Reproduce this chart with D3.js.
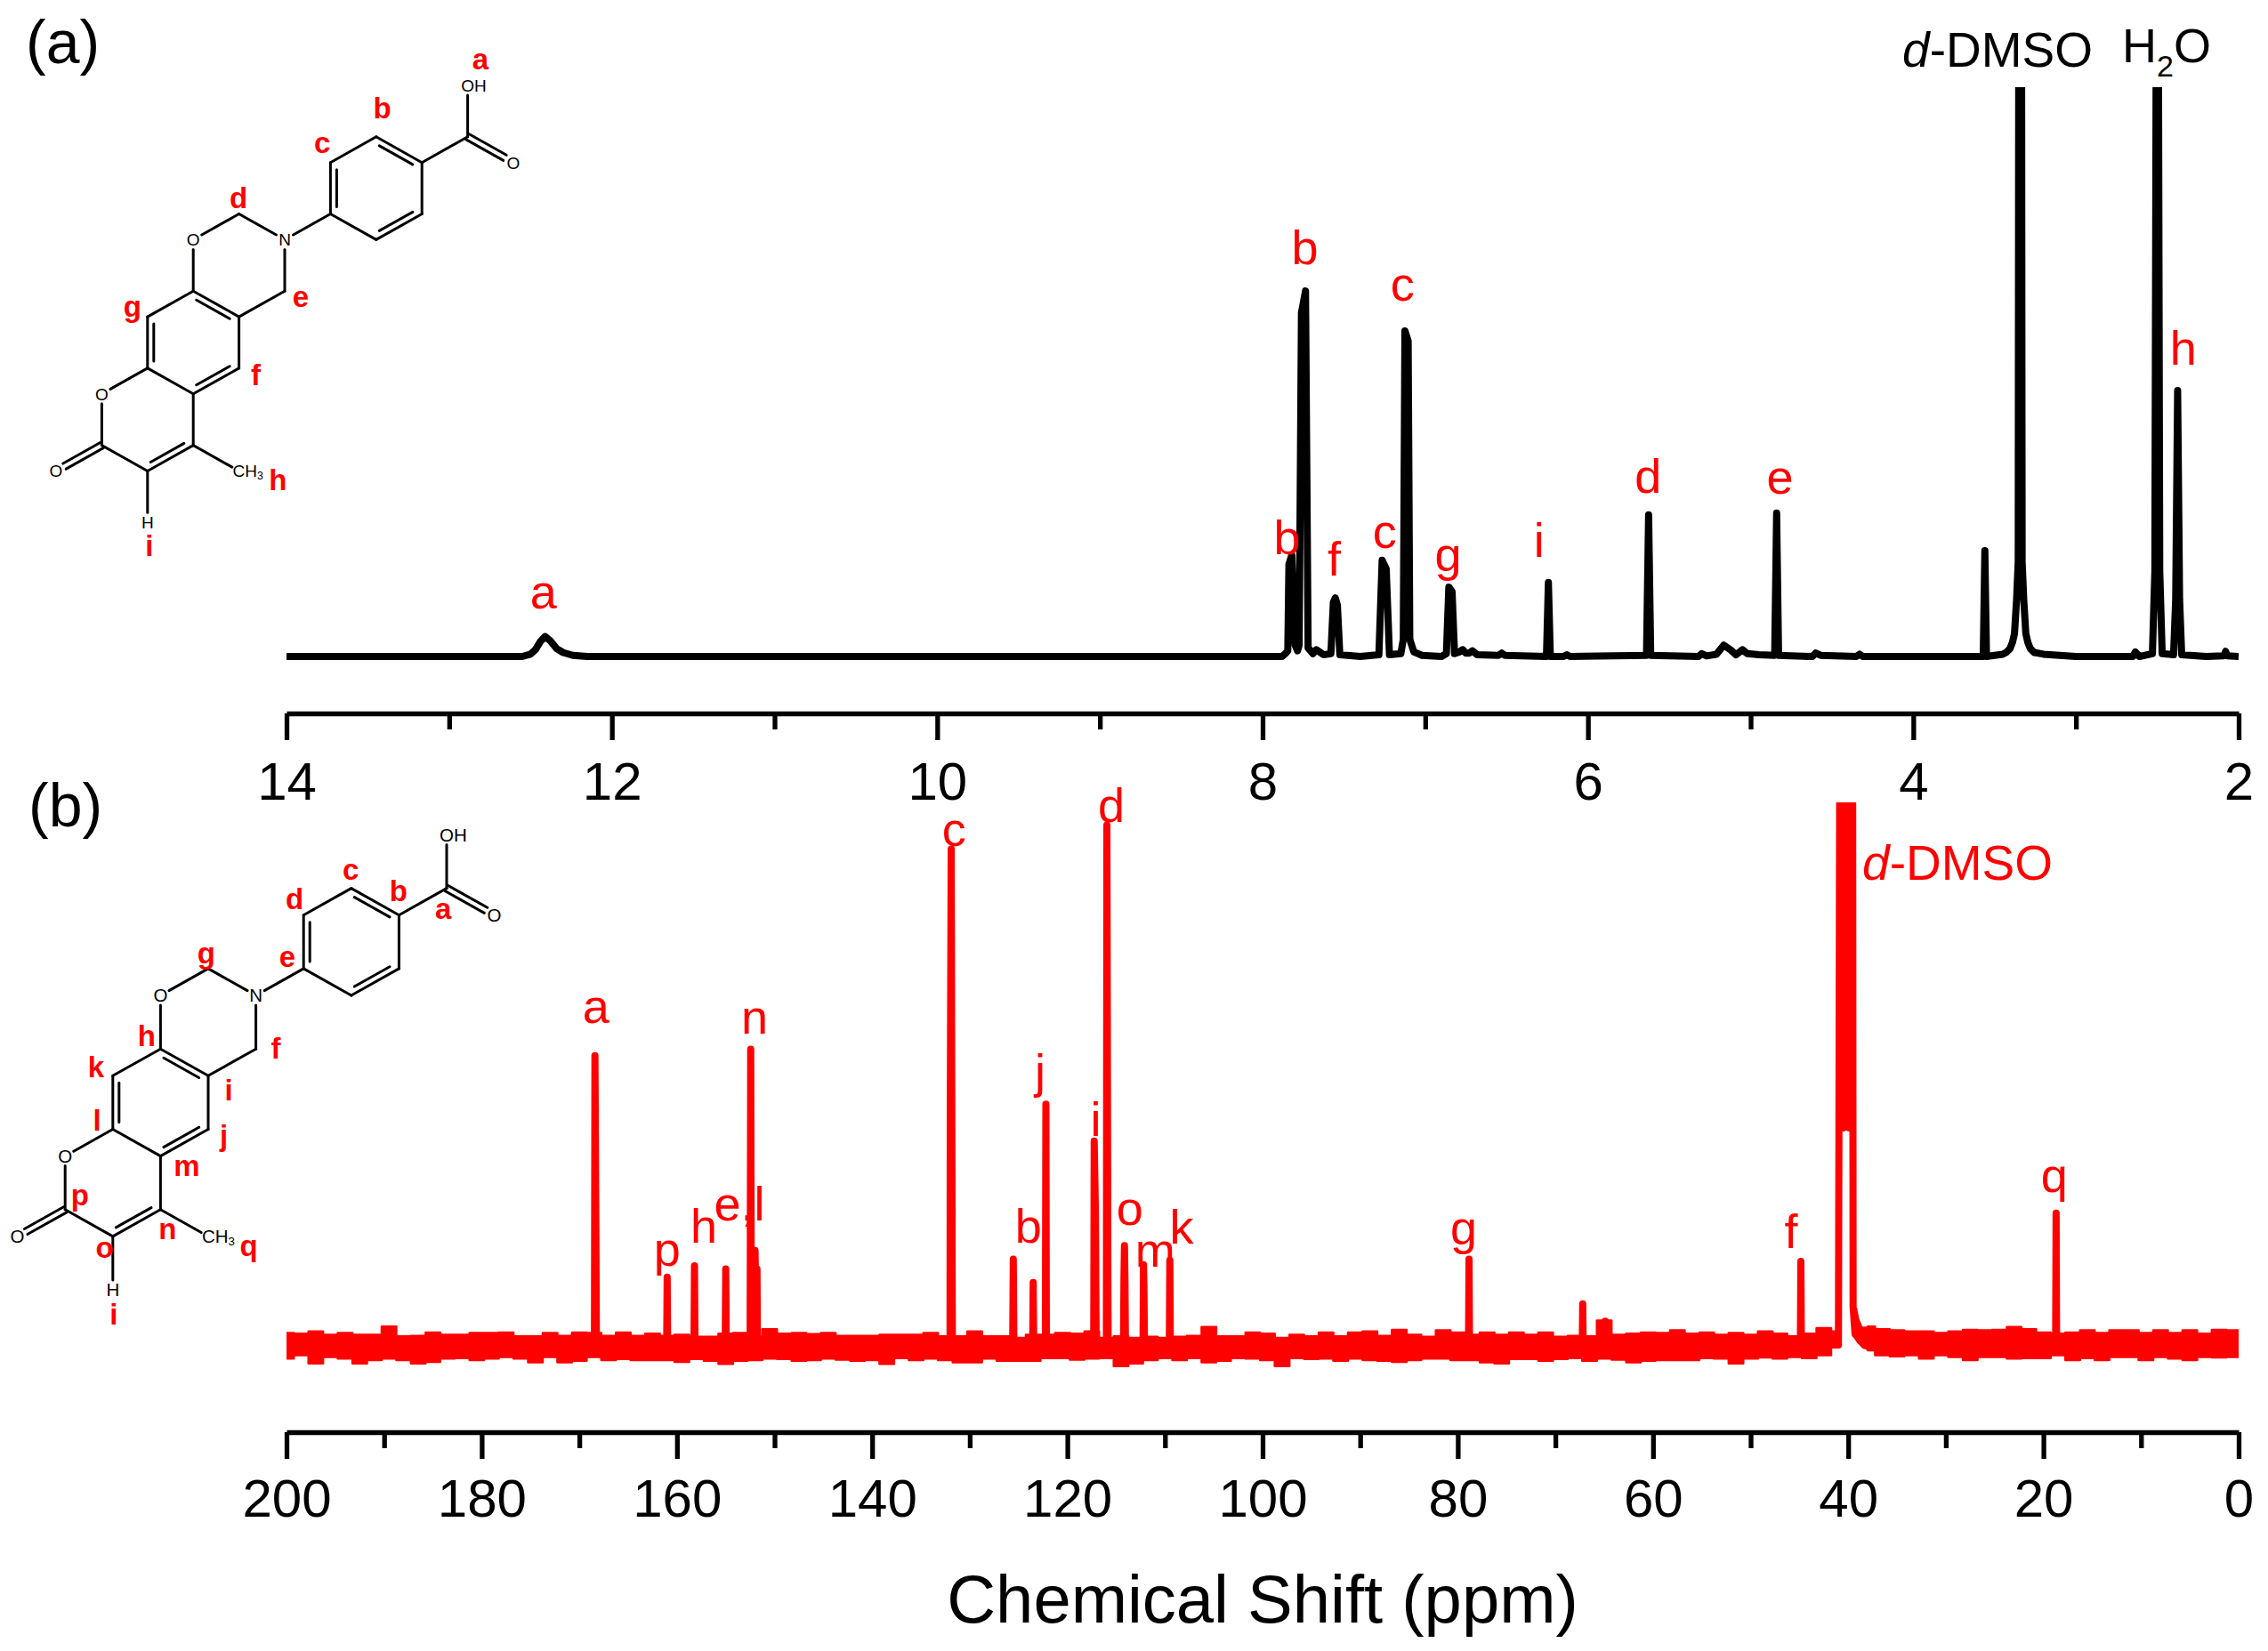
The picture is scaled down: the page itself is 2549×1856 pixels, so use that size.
<!DOCTYPE html>
<html>
<head>
<meta charset="utf-8">
<title>NMR spectra</title>
<script src="https://cdn.jsdelivr.net/npm/d3@7"></script>
<style>
  body { margin: 0; background: #fff; }
  text { font-family: "Liberation Sans", Arial, sans-serif; }
</style>
</head>
<body>
<svg id="chart" width="2549" height="1856"></svg>
<script>
// (a) 1H spectrum, intensity is % of the visible height
var protonShift = [14,12.55,12.5,12.47,12.44,12.41,12.38,12.34,12.3,12.24,12.15,7.88,7.86,7.845,7.838,7.82,7.8,7.785,7.775,7.761,7.736,7.72,7.69,7.67,7.65,7.625,7.58,7.565,7.553,7.54,7.525,7.4,7.285,7.265,7.24,7.22,7.15,7.135,7.125,7.105,7.095,7.07,7.02,6.9,6.87,6.855,6.835,6.82,6.79,6.77,6.75,6.73,6.71,6.68,6.55,6.53,6.51,6.255,6.243,6.231,6.15,6.13,6.11,5.64,5.627,5.614,5.32,5.3,5.27,5.21,5.165,5.12,5.09,5.05,5.02,4.95,4.852,4.84,4.828,4.62,4.6,4.57,4.35,4.33,4.31,3.57,3.56,3.55,3.5,3.45,3.43,3.405,3.39,3.378,3.365,3.355,3.351,3.335,3.331,3.321,3.308,3.296,3.281,3.256,3.2,3.1,3,2.65,2.635,2.61,2.53,2.515,2.505,2.495,2.485,2.47,2.4,2.387,2.375,2.363,2.35,2.2,2.09,2.08,2.07,2];
var protonIntensity = [0,0,0.4,1.2,2.6,3.5,2.8,1.4,0.7,0.2,0,0,0.5,1,16.2,17.8,2,1,2,60.4,64.2,1.5,0.5,1.2,0.8,0.3,0.5,9.5,10.3,9,0.3,0,0.3,16.9,15.4,0.3,0.5,3,57.2,55.4,3,0.8,0.2,0,0.5,12.2,11.4,0.5,0.8,1.2,0.6,0.6,1,0.3,0.2,0.6,0.2,0,13,0,0,0.3,0,0.2,24.9,0.2,0,0.5,0.1,0.4,2,1.1,0.3,1.2,0.5,0.3,0.2,25.2,0.2,0,0.6,0.2,0,0.4,0,0,18.6,0,0.2,0.4,0.7,1.4,2.5,4,10,16.7,130,130,16.7,10,4,2.5,1.4,0.7,0.4,0.2,0,0,0.8,0,0.5,15,130,130,15,0.5,0.3,10,46.7,10,0.3,0,0.1,0.9,0.1,0];

// (b) 13C spectrum, peaks only
var carbonShift = [200,168.45,168.4,168.3,168.25,161.05,161,160.95,158.25,158.2,158.15,155.05,155,154.95,152.5,152.44,152.38,152.05,152,151.9,151.8,151.75,132.02,132,131.9,131.8,131.78,125.6,125.54,125.48,123.55,123.5,123.45,122.25,122.2,122.15,117.3,117.25,117.12,117.05,116,115.95,115.85,115.82,114.25,114.2,114.15,114.1,114.05,112.25,112.2,112.15,112.1,109.55,109.5,109.45,78.9,78.85,78.8,67.25,67.2,67.15,65.05,64.9,64.75,44.9,44.85,44.8,41,40.84,40.5,40.2,39.9,39.56,39.5,39.3,38.55,38,18.75,18.7,18.65,0];
var carbonIntensity = [0,0,53.3,20,0,0,12.5,0,0,14.6,0,0,14,0,0,54.5,0,0,17.4,8,14,0,0,39.7,91.4,12.3,0,0,15.8,0,0,11.5,0,0,44.4,0,0,37.6,23.8,0,0,95.8,11.8,0,0,12.3,18.3,12.3,0,0,14.8,10,0,0,15.6,0,0,15.8,0,0,7.6,0,0,4.4,0,0,15.4,0,0,130,40,130,40,130,7,2,0.5,0,0,24.3,0,0];

// noise band of the 13C baseline, one sample every 1.5 ppm from 200 down, last one at 0
var noiseUpper = [2.2,2.1,2.5,1.9,2.2,1.9,1.9,3.4,1.6,1.7,2.3,1.9,1.9,2.2,2.2,2.3,1.6,1.6,2.2,1.7,2.3,2.2,1.7,2.3,1.7,2.1,1.7,1.9,1.5,1.5,2.1,2.2,1.5,2.9,
  2.1,2.2,2.0,2.2,1.7,1.7,1.7,1.9,1.9,1.9,2.2,1.6,1.6,2.5,1.6,1.6,1.3,1.9,1.9,2.2,2.1,2.5,1.3,1.6,1.3,1.5,1.3,1.5,1.7,3.3,1.6,1.6,2.3,
  2.1,1.3,1.9,1.6,2.3,1.6,2.3,2.5,1.7,2.8,1.9,1.5,2.7,2.3,1.9,2.3,1.9,2.3,1.9,2.3,1.5,1.7,1.6,4.5,1.9,2.1,2.3,2.2,2.7,2.1,2.3,1.9,2.2,1.9,
  2.5,2.1,1.6,2.1,3.1,2.5,null,3.4,2.9,2.7,2.5,2.5,2.2,2.5,2.8,2.7,2.8,3.3,2.9,2.3,2.1,2.3,2.7,2.2,2.7,2.7,2.2,2.7,2.2,2.7,2.1,2.8,2.7,2.7];
var noiseLower = [-2.5,-1.9,-3.4,-2.2,-2.5,-3.4,-2.8,-2.5,-2.8,-3.4,-3.1,-2.5,-2.4,-2.8,-2.5,-2.2,-2.5,-3.2,-2.2,-3.2,-2.9,-2.2,-2.8,-2.6,-2.8,-2.8,-2.8,-3.1,-2.6,-2.9,-3.5,-2.9,-2.8,-2.5,
  -2.6,-2.9,-2.8,-2.5,-2.7,-2.9,-2.8,-3.5,-2.4,-2.8,-2.5,-2.8,-3.2,-3.2,-2.5,-2.9,-2.9,-2.9,-2.4,-2.4,-2.7,-2.5,-2.4,-3.9,-3.4,-2.8,-2.4,-2.8,-2.4,-3.2,-2.9,-2.4,-2.5,
  -2.8,-3.9,-2.4,-2.6,-2.5,-2.9,-2.5,-2.8,-2.9,-3.1,-2.8,-2.5,-2.5,-2.8,-2.8,-3.2,-3.4,-2.6,-2.6,-2.9,-2.6,-2.4,-2.9,-2.5,-2.7,-3.2,-2.9,-2.8,-2.8,-2.8,-2.4,-2.5,-3.4,-2.5,
  -2.3,-2.5,-2.2,-2.4,-1.9,-0.4,null,-1.0,-1.9,-2.1,-1.9,-2.5,-1.9,-2.2,-2.8,-2.2,-2.2,-2.5,-2.4,-2.4,-1.9,-2.8,-2.4,-2.8,-2.2,-2.2,-2.8,-2.2,-2.5,-2.8,-2.2,-2.3,-2.2,-2.2];

// solvent tail just right of the gap
var tailShift = [39.5,39.1,38.87,38.55,38];
var tailUpper = [6.9,6.9,4.8,3.4,3.4];
var tailLower = [1.6,0.4,0,-0.6,-1.0];

// peak letters
var protonLabels = ["a","b","c","b","f","c","g","i","d","e","h"];
var protonLabelShift = [12.42,7.74,7.14,7.85,7.56,7.25,6.86,6.3,5.63,4.82,2.34];
var protonLabelLevel = [8.4,68.9,62.5,18,14.2,19.1,15,17.5,28.75,28.6,51.25];

var carbonLabels = ["a","n","p","h","e,l","c","b","j","i","d","o","m","k","g","f","q"];
var carbonLabelShift = [168.3,152.05,161,157.25,153.6,131.6,124,122.8,117.1,115.5,113.6,111,108.3,79.4,45.85,18.9];
var carbonLabelLevel = [59.3,57.4,14.6,18.85,22.95,92,18.85,47.4,38.5,96.4,22.1,14.4,18.7,18.5,17.9,28.2];

var protonTicks = [14,12,10,8,6,4,2];
var protonMinor = [13,11,9,7,5,3];
var carbonTicks = [200,180,160,140,120,100,80,60,40,20,0];
var carbonMinor = [190,170,150,130,110,90,70,50,30,10];

// molecule on a hexagon lattice: column, row, atom text
var atoms = [[9,0,"OH"],[9,2],[10,3,"O"],[8,3],[7,2],[6,3],[6,5],[7,6],[8,5],[5,6,"N"],[4,5],[3,6,"O"],[3,8],[4,9],[5,8],[4,11],[3,12],[2,11],[2,9],[1,12,"O"],[1,14],[0,15,"O"],[2,15],[3,14],[4,15,"CH3"],[2,17,"H"]];
// from, to, second line: 0 none, +1/-1 side, 2 both sides
var bonds = [[0,1,0],[1,2,2],[1,3,0],[3,4,-1],[4,5,0],[5,6,-1],[6,7,0],[7,8,-1],[8,3,0],[6,9,0],[9,10,0],[10,11,0],[11,12,0],[12,13,1],[13,14,0],[14,9,0],[13,15,0],[15,16,1],[16,17,0],[17,18,1],[18,12,0],[17,19,0],[19,20,0],[20,21,2],[20,22,0],[22,23,-1],[23,16,0],[23,24,0],[22,25,0]];

var molLabelsA = [["a",9.28,-0.64],["b",7.13,1.27],["c",5.82,2.64],["d",3.99,4.76],["e",5.35,8.62],["f",4.37,11.65],["g",1.67,9],["h",4.85,15.75],["i",2.04,18.29]];
var molLabelsB = [["c",6.99,1.69],["b",7.99,2.47],["d",5.81,2.78],["a",8.93,3.14],["g",3.96,4.81],["e",5.66,4.95],["h",2.71,7.89],["f",5.42,8.36],["k",1.65,9.04],["i",4.43,9.92],["l",1.67,11.04],["j",4.33,11.61],["m",3.55,12.76],["p",1.31,13.85],["n",3.15,15.11],["o",1.83,15.79],["q",4.85,15.74],["i",2.02,18.28]];

var left = 322,
    right = 2516,
    lineWidth = 8,
    red = "#ff0000";

var svg = d3.select("#chart");

var xTop = d3.scaleLinear().domain([14, 2]).range([left, right]),
    yTop = d3.scaleLinear().domain([0, 100]).range([738, 98]),
    xBot = d3.scaleLinear().domain([200, 0]).range([left, right]),
    yBot = d3.scaleLinear().domain([0, 100]).range([1512, 902]);

function clipTo(id, x, y) {
  svg.append("clipPath").attr("id", id)
    .append("rect")
    .attr("x", x.range()[0])
    .attr("y", y.range()[1])
    .attr("width", x.range()[1] - x.range()[0])
    .attr("height", y.range()[0] - y.range()[1] + 40);
}
clipTo("clipTop", xTop, yTop);
clipTo("clipBot", xBot, yBot);

function drawLine(shift, level, x, y, color, clipId) {
  var line = d3.line()
    .x(function(d) { return x(d); })
    .y(function(d, i) { return y(level[i]); });
  svg.append("path")
    .attr("clip-path", "url(#" + clipId + ")")
    .attr("d", line(shift))
    .attr("fill", "none")
    .attr("stroke", color)
    .attr("stroke-width", lineWidth)
    .attr("stroke-linejoin", "round");
}

function drawAxis(x, axisY, major, minor, labelY) {
  var g = svg.append("g").attr("transform", "translate(0," + axisY + ")");
  var minorG = g.append("g").call(d3.axisBottom(x).tickValues(minor).tickSize(18).tickFormat(""));
  var majorG = g.append("g").call(d3.axisBottom(x).tickValues(major).tickSize(30).tickSizeOuter(0).tickFormat(d3.format("d")));
  minorG.select(".domain").remove();
  majorG.select(".domain").attr("stroke", "#000").attr("stroke-width", 5.7);
  g.selectAll(".tick line").attr("stroke", "#000").attr("stroke-width", 5.3);
  majorG.selectAll(".tick text")
    .attr("y", labelY)
    .attr("dy", 0)
    .attr("fill", "#000")
    .style("font-size", "60px")
    .style("font-family", '"Liberation Sans", Arial, sans-serif');
}

function drawLabels(names, shift, level, x, y) {
  svg.append("g").selectAll("text").data(names).enter().append("text")
    .attr("x", function(d, i) { return x(shift[i]); })
    .attr("y", function(d, i) { return y(level[i]); })
    .attr("text-anchor", "middle")
    .attr("font-size", 54)
    .attr("fill", red)
    .text(function(d) { return d; });
}

function dmso(x, y, color) {
  var t = svg.append("text")
    .attr("x", x).attr("y", y)
    .attr("text-anchor", "middle")
    .attr("font-size", 55)
    .attr("fill", color);
  t.append("tspan").attr("font-style", "italic").text("d");
  t.append("tspan").text("-DMSO");
}

function drawMolecule(x0, y0, dx, dy, textSize, labels) {
  var mx = d3.scaleLinear().domain([0, 1]).range([x0, x0 + dx]),
      my = d3.scaleLinear().domain([0, 1]).range([y0, y0 + dy]);
  var g = svg.append("g");

  function stroke(x1, y1, x2, y2) {
    g.append("line")
      .attr("x1", x1).attr("y1", y1).attr("x2", x2).attr("y2", y2)
      .attr("stroke", "#000").attr("stroke-width", 3).attr("stroke-linecap", "round");
  }

  bonds.forEach(function(b) {
    var a1 = atoms[b[0]], a2 = atoms[b[1]];
    var x1 = mx(a1[0]), y1 = my(a1[1]), x2 = mx(a2[0]), y2 = my(a2[1]);
    var len = Math.sqrt((x2 - x1) * (x2 - x1) + (y2 - y1) * (y2 - y1));
    var ux = (x2 - x1) / len, uy = (y2 - y1) / len;
    // leave room for the atom text
    var s1 = a1[2] ? 11 : 0, s2 = a2[2] ? 11 : 0;
    if (a1[2] == "CH3") s1 = 9;
    if (a2[2] == "CH3") s2 = 9;
    var gap = 7;
    if (b[2] == 2) {
      stroke(x1 + ux * s1 - uy * 3.5, y1 + uy * s1 + ux * 3.5, x2 - ux * s2 - uy * 3.5, y2 - uy * s2 + ux * 3.5);
      stroke(x1 + ux * s1 + uy * 3.5, y1 + uy * s1 - ux * 3.5, x2 - ux * s2 + uy * 3.5, y2 - uy * s2 - ux * 3.5);
    } else {
      stroke(x1 + ux * s1, y1 + uy * s1, x2 - ux * s2, y2 - uy * s2);
      if (b[2]) {
        stroke(x1 + ux * 8 - uy * gap * b[2], y1 + uy * 8 + ux * gap * b[2],
               x2 - ux * 8 - uy * gap * b[2], y2 - uy * 8 + ux * gap * b[2]);
      }
    }
  });

  atoms.forEach(function(a) {
    if (!a[2]) return;
    var t = g.append("text")
      .attr("y", my(a[1]) + textSize * 0.36)
      .attr("font-size", textSize)
      .attr("fill", "#000");
    if (a[2] == "CH3") {
      t.attr("x", mx(a[0]) - 7);
      t.append("tspan").text("CH");
      t.append("tspan").attr("font-size", textSize * 0.65).attr("dy", 3).text("3");
    } else if (a[2] == "OH") {
      t.attr("x", mx(a[0]) - textSize * 0.39).text("OH");
    } else {
      t.attr("x", mx(a[0])).attr("text-anchor", "middle").text(a[2]);
    }
  });

  g.selectAll("text.mol").data(labels).enter().append("text")
    .attr("class", "mol")
    .attr("x", function(d) { return mx(d[1]); })
    .attr("y", function(d) { return my(d[2]); })
    .attr("text-anchor", "middle")
    .attr("font-size", 33)
    .attr("font-weight", "bold")
    .attr("fill", red)
    .text(function(d) { return d[0]; });
}

// spectrum (a)
drawLine(protonShift, protonIntensity, xTop, yTop, "#000", "clipTop");
drawAxis(xTop, 802, protonTicks, protonMinor, 97);
drawLabels(protonLabels, protonLabelShift, protonLabelLevel, xTop, yTop);
dmso(2245, 75, "#000");
var water = svg.append("text").attr("x", 2435).attr("y", 70)
  .attr("text-anchor", "middle").attr("font-size", 54).attr("fill", "#000");
water.append("tspan").text("H");
water.append("tspan").attr("font-size", 34).attr("dy", 16).text("2");
water.append("tspan").attr("dy", -16).text("O");

// spectrum (b)
var noiseShift = d3.range(200, 0, -1.5).concat([0]);
var band = d3.area()
  .curve(d3.curveStep)
  .defined(function(d, i) { return noiseUpper[i] !== null; })
  .x(function(d) { return xBot(d); })
  .y0(function(d, i) { return yBot(noiseLower[i]); })
  .y1(function(d, i) { return yBot(noiseUpper[i]); });
svg.append("path")
  .attr("clip-path", "url(#clipBot)")
  .attr("d", band(noiseShift))
  .attr("fill", red)
  .attr("stroke", red)
  .attr("stroke-width", 2.5)
  .attr("stroke-linejoin", "round");

var tail = d3.area()
  .x(function(d) { return xBot(d); })
  .y0(function(d, i) { return yBot(tailLower[i]); })
  .y1(function(d, i) { return yBot(tailUpper[i]); });
svg.append("path").attr("d", tail(tailShift)).attr("fill", red);

drawLine(carbonShift, carbonIntensity, xBot, yBot, red, "clipBot");
drawAxis(xBot, 1610, carbonTicks, carbonMinor, 95);
drawLabels(carbonLabels, carbonLabelShift, carbonLabelLevel, xBot, yBot);
dmso(2200, 989, red);

svg.append("text").attr("x", 1419).attr("y", 1824)
  .attr("text-anchor", "middle").attr("font-size", 76).attr("fill", "#000")
  .text("Chemical Shift (ppm)");

svg.append("text").attr("x", 29).attr("y", 71).attr("font-size", 68).attr("fill", "#000").text("(a)");
svg.append("text").attr("x", 32).attr("y", 929).attr("font-size", 68).attr("fill", "#000").text("(b)");

// structures
drawMolecule(63, 96, 51.4, 28.9, 19, molLabelsA);
drawMolecule(19.6, 938.4, 53.6, 30.1, 20.5, molLabelsB);
</script>
</body>
</html>
